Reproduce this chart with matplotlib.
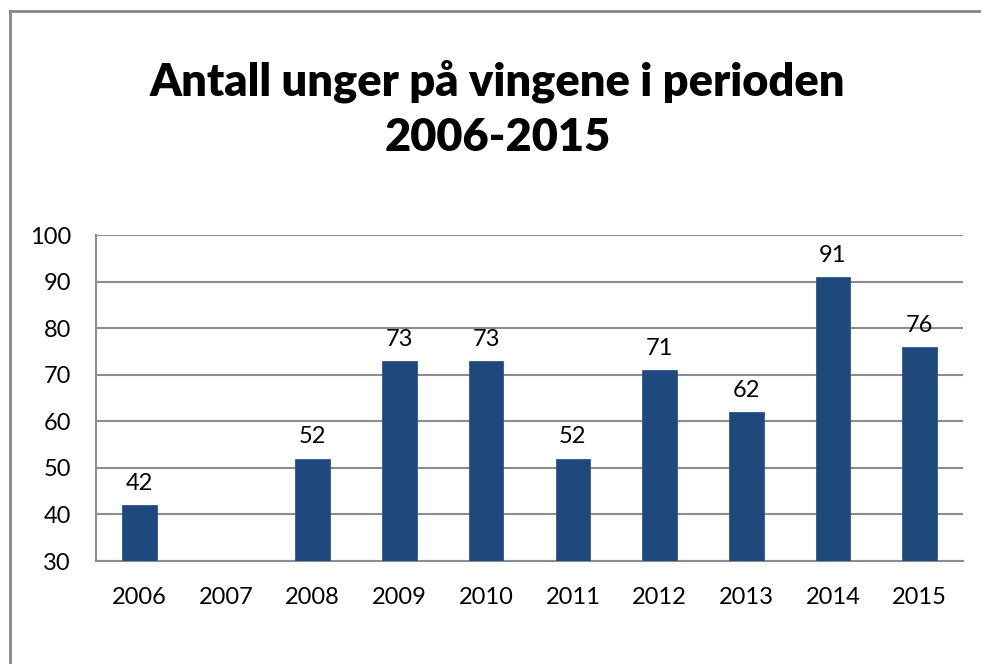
import matplotlib.pyplot as plt
from matplotlib.lines import Line2D
import numpy as np

# data
years = ['2006', '2007', '2008', '2009', '2010', '2011', '2012', '2013', '2014', '2015']
chicks = [42, None, 52, 73, 73, 52, 71, 62, 91, 76]

plt.rcParams['font.family'] = ['Lato', 'DejaVu Sans']

fig = plt.figure(figsize=(9.81, 6.64), dpi=100)
ax = fig.add_axes([96 / 981, 1 - 561 / 664, (963 - 96) / 981, (561 - 235) / 664])

# chart frame (only top and left visible in the crop)
fig.add_artist(Line2D([9.5 / 981, 9.5 / 981], [0, 1 - 11 / 664], transform=fig.transFigure,
                      color='#868686', lw=2))
fig.add_artist(Line2D([9.5 / 981, 1.01], [1 - 11 / 664, 1 - 11 / 664], transform=fig.transFigure,
                      color='#868686', lw=2))

x = np.arange(len(years))
vals = [v if v is not None else 0 for v in chicks]
bars = ax.bar(x, [v - 30 if v else 0 for v in vals], bottom=30, width=0.4,
              color='#1F497D', edgecolor='#2c5a90', linewidth=0.6, zorder=3)
for xi, v in zip(x, chicks):
    if v is not None:
        ax.annotate(str(v), (xi, v), xytext=(0, 8), textcoords='offset points',
                    ha='center', va='bottom', fontsize=17, color='black')

ax.set_xlim(-0.5, len(years) - 0.5)
ax.set_ylim(30, 100)
ax.set_yticks(range(30, 101, 10))
ax.set_xticks(x)
ax.set_xticklabels(years)
ax.tick_params(axis='both', length=0, labelsize=17)
ax.tick_params(axis='y', pad=18)
ax.tick_params(axis='x', pad=19)
ax.yaxis.grid(True, color='#8c8c8c', linewidth=1.5, zorder=0)
ax.set_axisbelow(True)
for s in ['top', 'right']:
    ax.spines[s].set_visible(False)
for s in ['left', 'bottom']:
    ax.spines[s].set_color('#8c8c8c')
    ax.spines[s].set_linewidth(1.5)

fig.text(0.507, 1 - 109 / 664, 'Antall unger på vingene i perioden\n2006-2015',
         ha='center', va='center', fontsize=32.5, fontweight='heavy', linespacing=1.42)

fig.savefig('out.png', dpi=100)
